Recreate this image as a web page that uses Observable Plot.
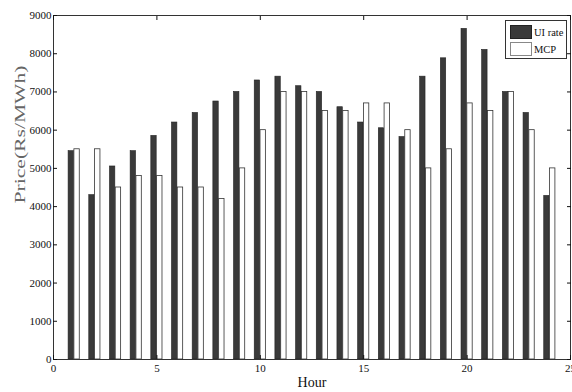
<!DOCTYPE html>
<html><head><meta charset="utf-8">
<script src="https://cdn.jsdelivr.net/npm/d3@7"></script>
<script src="https://cdn.jsdelivr.net/npm/@observablehq/plot@0.6"></script>
<style>
body{margin:0;background:#fff;}
#wrap{position:relative;width:572px;height:392px;overflow:hidden;}
.legend{position:absolute;left:505px;top:20px;width:62px;height:39px;border:1px solid #333;background:#fff;font-family:"Liberation Serif",serif;font-size:10.5px;color:#111;box-sizing:border-box;}
.legend .row{position:absolute;left:4px;height:14px;display:flex;align-items:center;}
.legend .sw{width:22px;height:14px;box-sizing:border-box;margin-right:2px;}
</style>
</head><body>
<div id="wrap"></div>
<script>
const hours = [1,2,3,4,5,6,7,8,9,10,11,12,13,14,15,16,17,18,19,20,21,22,23,24];
const uiRate = [5450,4300,5050,5450,5850,6200,6450,6750,7000,7300,7400,7150,7000,6600,6200,6050,5820,7400,7880,8650,8100,7000,6450,4280];
const mcp = [5500,5500,4500,4800,4800,4500,4500,4200,5000,6000,7000,7000,6500,6500,6700,6700,6000,5000,5500,6700,6500,7000,6000,5000];
const xTicks = [0,5,10,15,20,25];
const yTicks = [0,1000,2000,3000,4000,5000,6000,7000,8000,9000];
const seriesNames = ["UI rate","MCP"];

const rows = hours.map((h,i)=>({hour:h, ui:uiRate[i], mcp:mcp[i]}));

const plot = Plot.plot({
  width:572, height:392,
  marginLeft:53, marginRight:2, marginTop:15, marginBottom:33,
  style:{fontFamily:'"Liberation Serif", serif', fontSize:"11px", color:"#111", background:"#fff"},
  x:{domain:[0,25], ticks:xTicks, label:null},
  y:{domain:[0,9000], ticks:yTicks, label:null},
  marks:[
    Plot.rect(rows,{x1:d=>d.hour-0.27, x2:d=>d.hour-0.01, y1:0, y2:"ui", fill:"#3a3a3a", stroke:"#222", strokeWidth:0.6}),
    Plot.rect(rows,{x1:d=>d.hour+0.01, x2:d=>d.hour+0.27, y1:0, y2:"mcp", fill:"#fff", stroke:"#333", strokeWidth:0.8}),
    Plot.frame({stroke:"#333"}),
    Plot.axisX({anchor:"bottom", ticks:xTicks, tickSize:-4, tickPadding:9, tickFormat:d3.format("d"), label:null}),
    Plot.axisX({anchor:"top", ticks:xTicks, tickSize:-4, tickFormat:()=>"", label:null}),
    Plot.axisY({anchor:"left", ticks:yTicks, tickSize:-4, tickPadding:6, tickFormat:d3.format("d"), label:null}),
    Plot.axisY({anchor:"right", ticks:yTicks, tickSize:-4, tickFormat:()=>"", label:null}),
    Plot.text(["Hour"], {frameAnchor:"bottom", dy:27, fontSize:14, fill:"#111"}),
    Plot.text(["Price(Rs/MWh)"], {frameAnchor:"left", rotate:-90, dx:-33, dy:16, fontSize:14, fill:"#666"})
  ]
});
document.getElementById("wrap").appendChild(plot);
d3.select(plot).selectAll("text").filter(function(){return this.textContent==="Price(Rs/MWh)";})
  .attr("textLength",138).attr("lengthAdjust","spacingAndGlyphs");

const lg = document.createElement("div");
lg.className="legend";
lg.innerHTML = `<div class="row" style="top:4px"><div class="sw" style="background:#3a3a3a;border:1px solid #222"></div>${seriesNames[0]}</div>
<div class="row" style="top:21px"><div class="sw" style="background:#fff;border:1px solid #888"></div>${seriesNames[1]}</div>`;
document.getElementById("wrap").appendChild(lg);
</script>
</body></html>
